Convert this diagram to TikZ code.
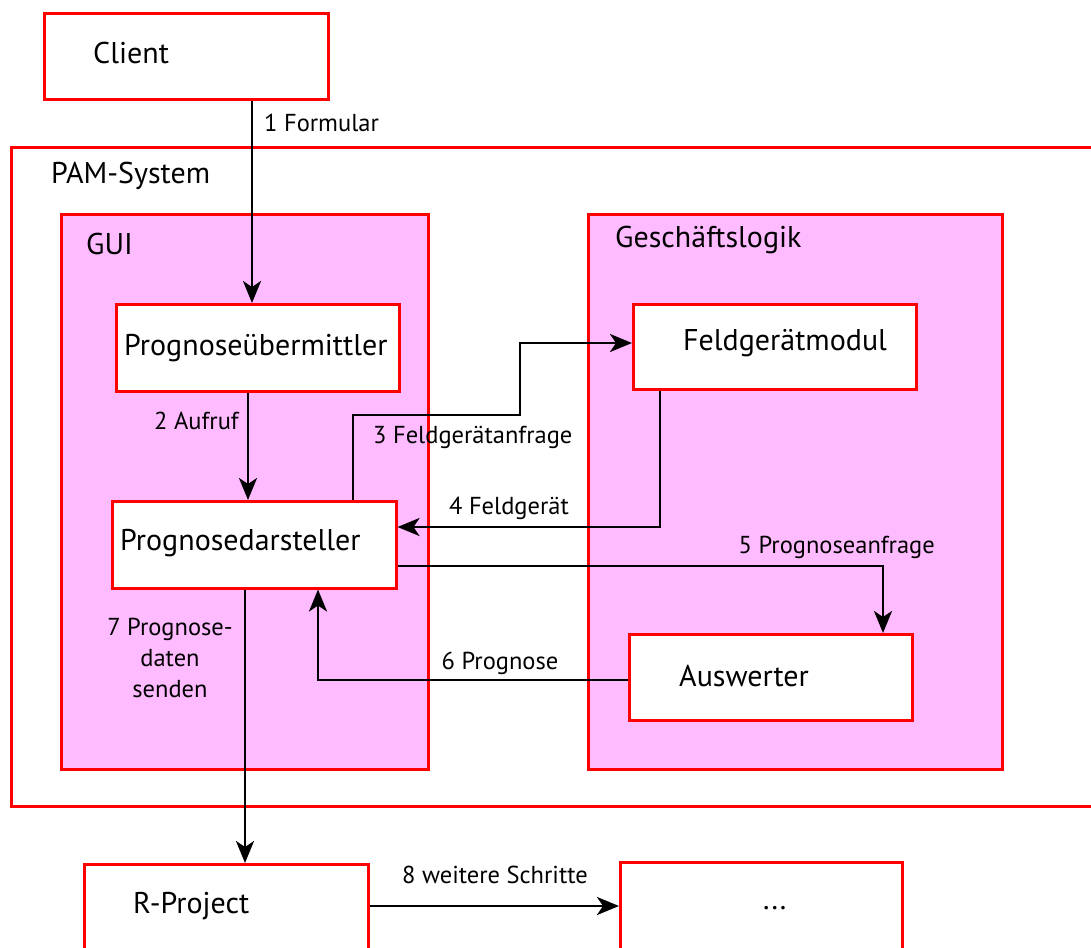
\documentclass[tikz,border=0pt]{standalone}
\usepackage{fontspec}
\setmainfont{PT Sans}
\usetikzlibrary{arrows.meta}
\definecolor{boxred}{RGB}{255,0,0}
\definecolor{pinkfill}{RGB}{255,187,255}
\tikzset{
  frame/.style={draw=boxred, line width=2.5bp, anchor=north west, inner sep=0pt},
  compbox/.style={frame, fill=white},
  groupbox/.style={frame, fill=pinkfill},
  boxtext/.style={anchor=west, inner sep=0pt, font=\fontsize{30bp}{36bp}\selectfont},
  grouptext/.style={anchor=west, inner sep=0pt, font=\fontsize{30bp}{36bp}\selectfont},
  lbl/.style={inner sep=0pt, font=\fontsize{24.5bp}{31bp}\selectfont},
  arr/.style={draw=black, line width=2.8bp, -{Stealth[length=22bp,width=18bp,inset=6bp]}},
}
\begin{document}
\begin{tikzpicture}[x=1bp,y=-1bp]
\useasboundingbox (0,0) rectangle (1091,948);
\clip (0,0) rectangle (1091,948);

% outer system frame, open towards the right edge
\node[frame, minimum width=1100bp, minimum height=659bp] (pam) at (10,146) {};
\node[grouptext] (pamt) at (51,176) {PAM-System};

% subsystem groups
\node[groupbox, minimum width=367bp, minimum height=555bp] (gui) at (60,213) {};
\node[grouptext] (guit) at (86,244) {GUI};
\node[groupbox, minimum width=414bp, minimum height=555bp] (gl) at (587,213) {};
\node[grouptext] (glt) at (615,240) {Geschäftslogik};

% components
\node[compbox, minimum width=284bp, minimum height=86bp] (client) at (43,12) {};
\node[boxtext] at (93,53) {Client};

\node[compbox, minimum width=283bp, minimum height=87bp] (ueb) at (115,303) {};
\node[boxtext] at (124,348) {Prognoseübermittler};

\node[compbox, minimum width=284bp, minimum height=87bp] (dar) at (111,500) {};
\node[boxtext] at (120,543) {Prognosedarsteller};

\node[compbox, minimum width=283bp, minimum height=85bp] (feld) at (632,303) {};
\node[boxtext] at (683,343) {Feldgerätmodul};

\node[compbox, minimum width=283bp, minimum height=86bp] (ausw) at (628,633) {};
\node[boxtext] at (679,676) {Auswerter};

\node[compbox, minimum width=284bp, minimum height=110bp] (rp) at (83,863) {};
\node[boxtext] at (133,906) {R-Project};

\node[compbox, minimum width=282bp, minimum height=110bp] (more) at (619,861) {};
\node[boxtext] at (763,908) {...};

% connector routing columns and rows
\coordinate (x1) at (252,0);
\coordinate (x2) at (248,0);
\coordinate (x3) at (353,0);
\coordinate (r3) at (0,415);
\coordinate (k3) at (520,0);
\coordinate (y3) at (0,343);
\coordinate (x4) at (660,0);
\coordinate (y4) at (0,527);
\coordinate (y5) at (0,566);
\coordinate (x5) at (883,0);
\coordinate (y6) at (0,680);
\coordinate (x6) at (318,0);
\coordinate (x7) at (245,0);
\coordinate (y8) at (0,906);

% messages
\draw[arr] (client.south -| x1) -- (ueb.north -| x1);
\node[lbl, anchor=west] at (264,123) {1 Formular};

\draw[arr] (ueb.south -| x2) -- (dar.north -| x2);
\node[lbl, anchor=east] at (239,421) {2 Aufruf};

\draw[arr] (dar.north -| x3) -- (x3 |- r3) -- (k3 |- r3) -- (k3 |- y3) -- (feld.west |- y3);
\node[lbl, anchor=west] at (373,437) {3 Feldgerätanfrage};

\draw[arr] (feld.south -| x4) -- (x4 |- y4) -- (dar.east |- y4);
\node[lbl] at (509,508) {4 Feldgerät};

\draw[arr] (dar.east |- y5) -- (x5 |- y5) -- (ausw.north -| x5);
\node[lbl, anchor=east] at (935,547) {5 Prognoseanfrage};

\draw[arr] (ausw.west |- y6) -- (x6 |- y6) -- (dar.south -| x6);
\node[lbl] at (500,663) {6 Prognose};

\draw[arr] (dar.south -| x7) -- (rp.north -| x7);
\node[lbl, align=center] at (170,658) {7 Prognose-\\daten\\senden};

\draw[arr] (rp.east |- y8) -- (more.west |- y8);
\node[lbl] at (495,875) {8 weitere Schritte};
\end{tikzpicture}
\end{document}
